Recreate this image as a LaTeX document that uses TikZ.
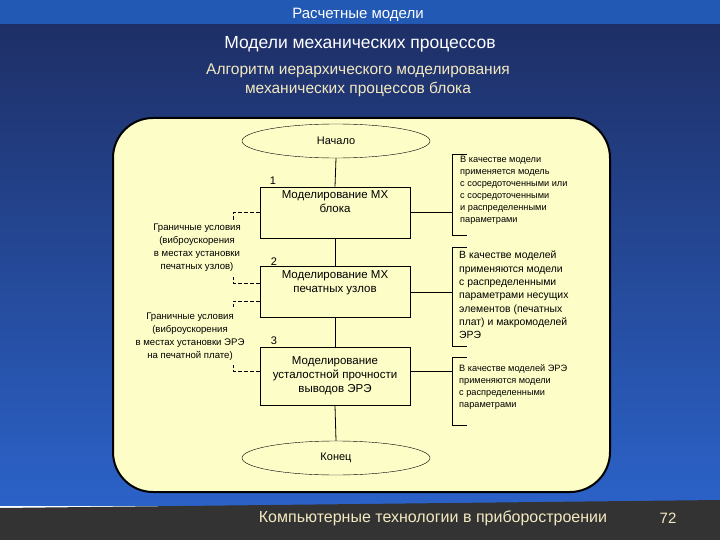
\documentclass[tikz,border=0pt]{standalone}
\usepackage{fontspec}
\setmainfont{Liberation Sans}
\usetikzlibrary{shapes.geometric}
\definecolor{panel}{HTML}{FDFDC8}
\definecolor{navy}{HTML}{1E2F66}
\definecolor{bblue}{HTML}{2B62C8}
\definecolor{hbar}{HTML}{2159B5}
\definecolor{foot}{HTML}{333333}
\definecolor{cream}{HTML}{F3E9C0}
\begin{document}
\begin{tikzpicture}[x=1pt,y=-1pt,
  box/.style={draw,thick,fill=panel,minimum width=150pt,inner sep=1pt,align=center,font=\fontsize{11.5}{14}\selectfont},
  boxtext/.style={align=center,anchor=north,inner sep=1pt,font=\fontsize{11.5}{14}\selectfont},
  term/.style={draw,ellipse,fill=panel,minimum width=188pt,minimum height=34pt,font=\fontsize{11}{13}\selectfont},
  note/.style={align=center,font=\fontsize{9.6}{13}\selectfont},
  rnote/.style={align=left,anchor=north west,font=\fontsize{9.6}{13}\selectfont},
  link/.style={thick},
  dlink/.style={thick,dash pattern=on 4pt off 2pt}]
\useasboundingbox (0,0) rectangle (720,540);
\shade[top color=navy,bottom color=bblue] (0,24) rectangle (720,505);
\fill[hbar] (0,0) rectangle (720,24);
\fill[foot] (0,508) -- (720,500) -- (720,540) -- (0,540) -- cycle;
\node[white,font=\fontsize{15}{17}\selectfont] (hdr) at (358,15) {Расчетные модели};
\node[white,font=\fontsize{17.5}{20}\selectfont] (ttl) at (360,44) {Модели механических процессов};
\node[cream,align=center,font=\fontsize{15.5}{19}\selectfont] (sub) at (358,80) {Алгоритм иерархического моделирования\\механических процессов блока};
\node[cream,font=\fontsize{16}{18}\selectfont] (ftr) at (433,518) {Компьютерные технологии в приборостроении};
\node[cream,font=\fontsize{15}{17}\selectfont] (pg) at (668,518) {72};
\draw[line width=2pt,fill=panel,rounded corners=40pt] (113,118) rectangle (610,492);
\node[term] (start) at (336,141) {Начало};
\node[box,minimum height=51pt] (b1) at (335,212.5) {};
\node[boxtext] (b1t) at (335,189) {Моделирование МХ\\блока};
\node[box,minimum height=51pt] (b2) at (335,292) {};
\node[boxtext] (b2t) at (335,269) {Моделирование МХ\\печатных узлов};
\node[box,minimum height=58pt] (b3) at (335,376) {Моделирование\\усталостной прочности\\выводов ЭРЭ};
\node[term] (end) at (336,458) {Конец};
\node[font=\fontsize{11}{13}\selectfont] (n1) at (273,181) {1};
\node[font=\fontsize{11}{13}\selectfont] (n2) at (274,262) {2};
\node[font=\fontsize{11}{13}\selectfont] (n3) at (274,341) {3};
\draw[link] (start.south) -- (b1.north);
\draw[link] (b1.south) -- (b2.north);
\draw[link] (b2.south) -- (b3.north);
\draw[link] (b3.south) -- (end.north);
% left boundary conditions
\node[note] (l1) at (197,248) {Граничные условия\\(виброускорения\\в местах установки\\печатных узлов)};
\node[note] (l2) at (190,337) {Граничные условия\\(виброускорения\\в местах установки ЭРЭ\\на печатной плате)};
\draw[dlink] (b1.west) -- (233,212.5) -- (233,220);
\draw[dlink] (b2.west|-0,283) -- (233,283) -- (233,277);
\draw[dlink] (b2.west|-0,301) -- (233,301) -- (233,307);
\draw[dlink] (b3.west|-0,371) -- (233,371) -- (233,365);
% right notes
\coordinate (r1) at (452,212.5);
\coordinate (r2) at (452,292);
\coordinate (r3) at (452,371);
\draw[link] (b1.east) -- (r1);
\draw[link] (b2.east) -- (r2);
\draw[link] (b3.east|-r3) -- (r3);
\draw[link] (467,154) -- (452,154) -- (452,235) -- (467,235);
\draw[link] (467,247) -- (452,247) -- (452,346) -- (467,346);
\draw[link] (467,357) -- (452,357) -- (452,425) -- (467,425);
\node[rnote,inner sep=0pt,font=\fontsize{9.2}{12}\selectfont] (t1) at (460,156) {В качестве модели\\применяется модель\\с сосредоточенными или\\с сосредоточенными\\и распределенными\\параметрами};
\node[rnote,inner sep=0pt,font=\fontsize{10.4}{13.3}\selectfont] (t2) at (459,251) {В качестве моделей\\применяются модели\\с распределенными\\параметрами несущих\\элементов (печатных\\плат) и макромоделей\\ЭРЭ};
\node[rnote,inner sep=0pt,font=\fontsize{9.2}{12}\selectfont] (t3) at (459,364) {В качестве моделей ЭРЭ\\применяются модели\\с распределенными\\параметрами};
\end{tikzpicture}
\end{document}
